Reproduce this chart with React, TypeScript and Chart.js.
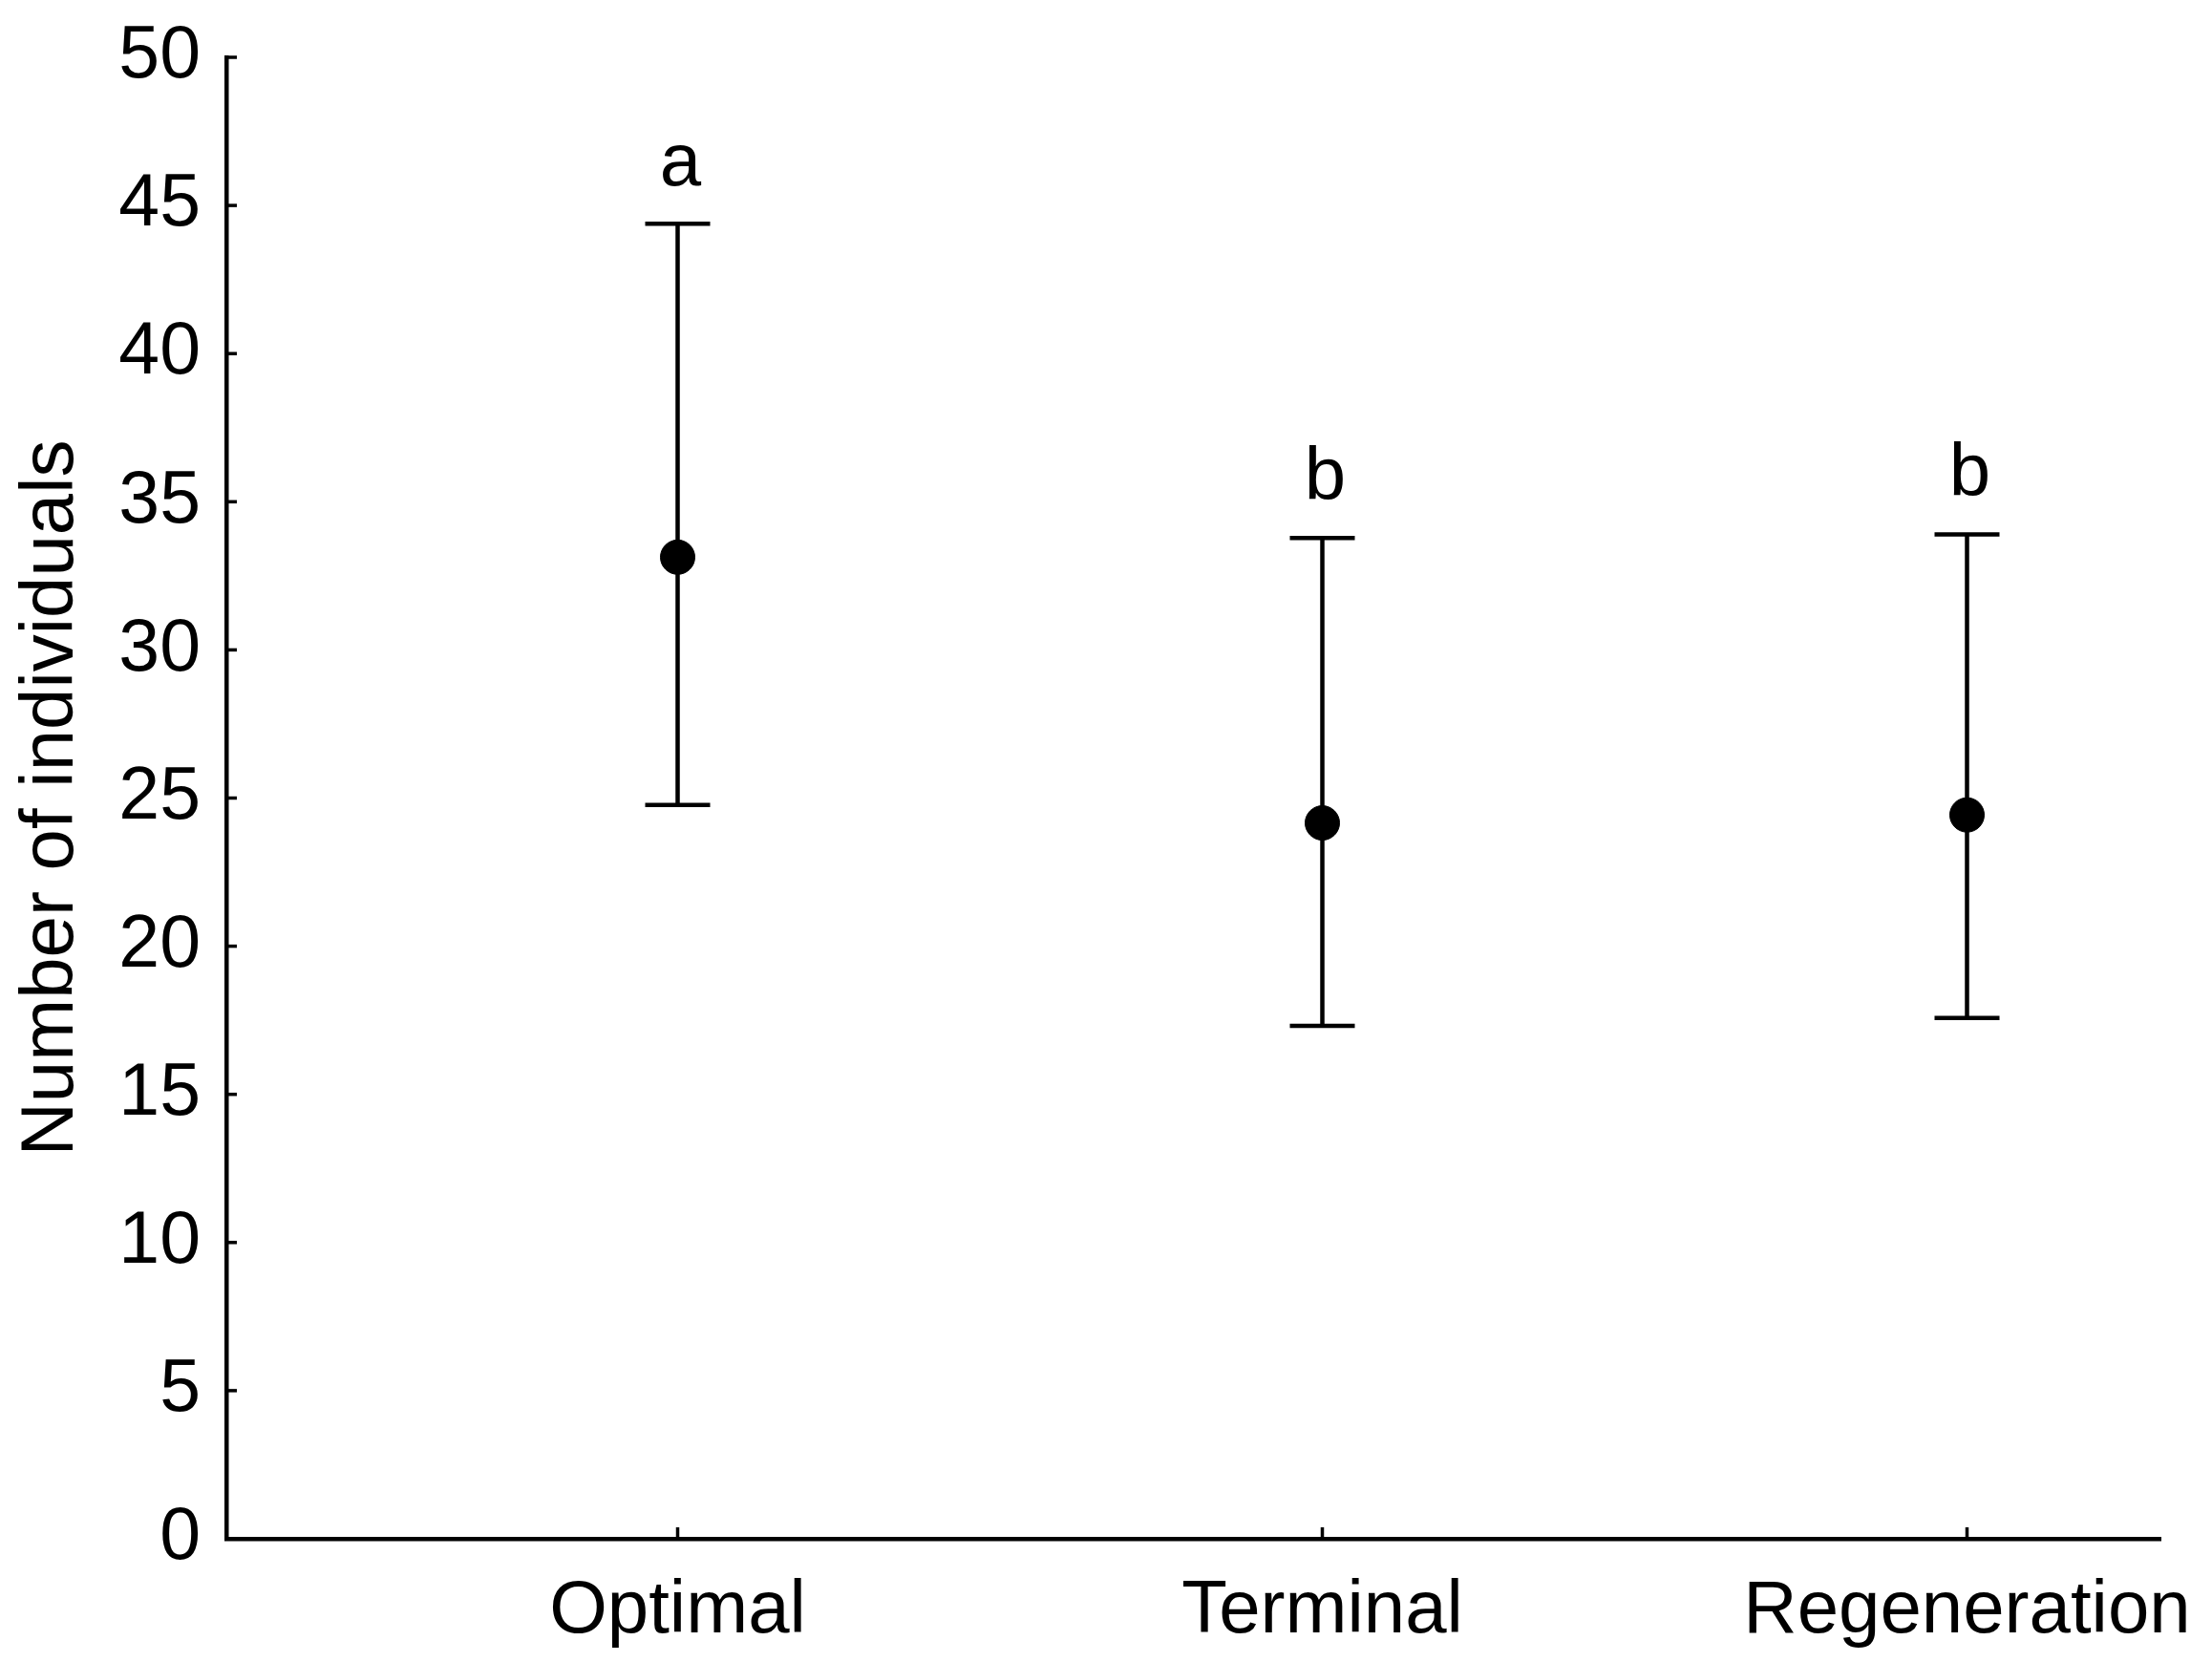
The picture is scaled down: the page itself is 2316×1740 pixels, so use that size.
import React, { useEffect, useRef } from "react";
import { Chart, registerables } from "chart.js";

Chart.register(...registerables);

const categories = ["Optimal", "Terminal", "Regeneration"];
const means = [33.13, 24.16, 24.43];
const upperBounds = [44.38, 33.78, 33.9];
const lowerBounds = [24.77, 17.31, 17.58];
const groupLetters = ["a", "b", "b"];
const yTickValues = [0, 5, 10, 15, 20, 25, 30, 35, 40, 45, 50];
const yTitle = "Number of individuals";

const FONT = "'Liberation Sans', Arial, Helvetica, sans-serif";

const errorBarPlugin = {
  id: "errorBars",
  beforeDatasetsDraw(chart: any) {
    const { ctx, scales } = chart;
    const xs = scales.x;
    const ys = scales.y;
    ctx.save();
    ctx.strokeStyle = "#000";
    ctx.lineWidth = 4.5;
    categories.forEach((_, i) => {
      const x = xs.getPixelForValue(i + 1);
      const yt = ys.getPixelForValue(upperBounds[i]);
      const yb = ys.getPixelForValue(lowerBounds[i]);
      const hw = 34;
      ctx.beginPath();
      ctx.moveTo(x, yt);
      ctx.lineTo(x, yb);
      ctx.moveTo(x - hw, yt);
      ctx.lineTo(x + hw, yt);
      ctx.moveTo(x - hw, yb);
      ctx.lineTo(x + hw, yb);
      ctx.stroke();
    });
    ctx.restore();
  },
  afterDraw(chart: any) {
    const { ctx, scales, chartArea } = chart;
    const xs = scales.x;
    const ys = scales.y;
    ctx.save();
    ctx.strokeStyle = "#000";
    ctx.lineWidth = 3.5;
    yTickValues.forEach((v) => {
      const y = ys.getPixelForValue(v);
      ctx.beginPath();
      ctx.moveTo(chartArea.left, y);
      ctx.lineTo(chartArea.left + 11, y);
      ctx.stroke();
    });
    categories.forEach((_, i) => {
      const x = xs.getPixelForValue(i + 1);
      ctx.beginPath();
      ctx.moveTo(x, chartArea.bottom);
      ctx.lineTo(x, chartArea.bottom - 12);
      ctx.stroke();
    });
    ctx.fillStyle = "#000";
    ctx.font = `78px ${FONT}`;
    ctx.textAlign = "center";
    ctx.textBaseline = "alphabetic";
    groupLetters.forEach((t, i) => {
      const x = xs.getPixelForValue(i + 1);
      const y = ys.getPixelForValue(upperBounds[i]) - 40;
      ctx.fillText(t, x + 3, y);
    });
    ctx.restore();
  },
};

export default function App() {
  const ref = useRef<HTMLCanvasElement | null>(null);

  useEffect(() => {
    if (!ref.current) return;
    const chart = new Chart(ref.current, {
      type: "scatter",
      data: {
        datasets: [
          {
            data: means.map((m, i) => ({ x: i + 1, y: m })),
            backgroundColor: "#000",
            borderColor: "#000",
            pointRadius: 18,
            pointHoverRadius: 18,
            pointStyle: "circle",
          },
        ],
      },
      options: {
        animation: false,
        responsive: false,
        maintainAspectRatio: false,
        events: [],
        layout: { padding: { top: 60, right: 54, left: 0, bottom: 0 } },
        plugins: {
          legend: { display: false },
          tooltip: { enabled: false },
          title: { display: false },
        },
        scales: {
          x: {
            type: "linear",
            min: 0.3,
            max: 3.3,
            afterBuildTicks: (s: any) => {
              s.ticks = categories.map((_, i) => ({ value: i + 1 }));
            },
            afterFit: (s: any) => {
              s.height = 129;
            },
            grid: { display: false, drawTicks: false },
            border: { display: true, color: "#000", width: 4.5 },
            ticks: {
              color: "#000",
              font: { family: FONT, size: 78, lineHeight: 1.95 },
              padding: 0,
              maxRotation: 0,
              autoSkip: false,
              callback: (v: any) => categories[Number(v) - 1] ?? "",
            },
          },
          y: {
            type: "linear",
            min: 0,
            max: 50,
            afterBuildTicks: (s: any) => {
              s.ticks = yTickValues.map((v) => ({ value: v }));
            },
            afterFit: (s: any) => {
              s.width = 237;
            },
            grid: { display: false, drawTicks: false },
            border: { display: true, color: "#000", width: 4.5 },
            ticks: {
              color: "#000",
              font: { family: FONT, size: 77, lineHeight: 0.5 },
              padding: 27,
              autoSkip: false,
            },
            title: {
              display: true,
              text: yTitle,
              color: "#000",
              font: { family: FONT, size: 78 },
              padding: { top: 8, bottom: 4 },
            },
          },
        },
      },
      plugins: [errorBarPlugin],
    });
    return () => chart.destroy();
  }, []);

  return (
    <div
      style={{
        position: "fixed",
        left: 0,
        top: 0,
        width: 2316,
        height: 1740,
        background: "#fff",
      }}
    >
      <canvas ref={ref} width={2316} height={1740} style={{ display: "block" }} />
    </div>
  );
}
